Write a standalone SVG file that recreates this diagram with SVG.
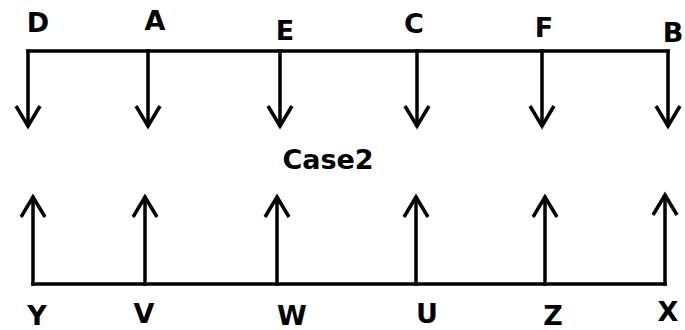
<svg xmlns="http://www.w3.org/2000/svg" width="685" height="330" viewBox="0 0 685 330">
<style>
.ln{stroke:#000;stroke-width:3.5;fill:none;stroke-linecap:square}
.hd{stroke:#000;stroke-width:3.5;fill:none;stroke-linejoin:miter}
text{font-family:"DejaVu Sans",Verdana,sans-serif;font-weight:bold;font-size:27px;fill:#000;text-anchor:middle}
</style>
<defs>
<path id="down" class="hd" d="M-12,-20 L0,0 L12,-20"/>
<path id="up" class="hd" d="M-12,20 L0,0 L12,20"/>
</defs>
<rect width="685" height="330" fill="#fff"/>
<g id="connectors">
<path class="ln" d="M28,51 H668"/>
<path class="ln" d="M28,51 V125 M148,51 V125 M280,51 V125 M417,51 V125 M542,51 V125 M668,51 V125"/>
<use href="#down" x="28" y="126"/>
<use href="#down" x="148" y="126"/>
<use href="#down" x="280" y="126"/>
<use href="#down" x="417" y="126"/>
<use href="#down" x="542" y="126"/>
<use href="#down" x="668" y="126"/>
<path class="ln" d="M33,284 H665"/>
<path class="ln" d="M33,284 V198 M145,284 V198 M277,284 V198 M416,284 V198 M545,284 V198 M665,284 V197"/>
<use href="#up" x="33" y="197"/>
<use href="#up" x="145" y="197"/>
<use href="#up" x="277" y="197"/>
<use href="#up" x="416" y="197"/>
<use href="#up" x="545" y="197"/>
<use href="#up" x="665" y="195"/>
</g>
<g id="nD"><text x="38" y="32">D</text></g>
<g id="nA"><text x="155" y="30">A</text></g>
<g id="nE"><text x="285" y="40">E</text></g>
<g id="nC"><text x="414" y="33">C</text></g>
<g id="nF"><text x="544" y="37">F</text></g>
<g id="nB"><text x="673" y="42">B</text></g>
<g id="title"><text x="328" y="169">Case2</text></g>
<g id="nY"><text x="37" y="325">Y</text></g>
<g id="nV"><text x="144" y="323">V</text></g>
<g id="nW"><text x="292" y="325">W</text></g>
<g id="nU"><text x="427" y="323">U</text></g>
<g id="nZ"><text x="553" y="325">Z</text></g>
<g id="nX"><text x="668" y="321">X</text></g>
</svg>
